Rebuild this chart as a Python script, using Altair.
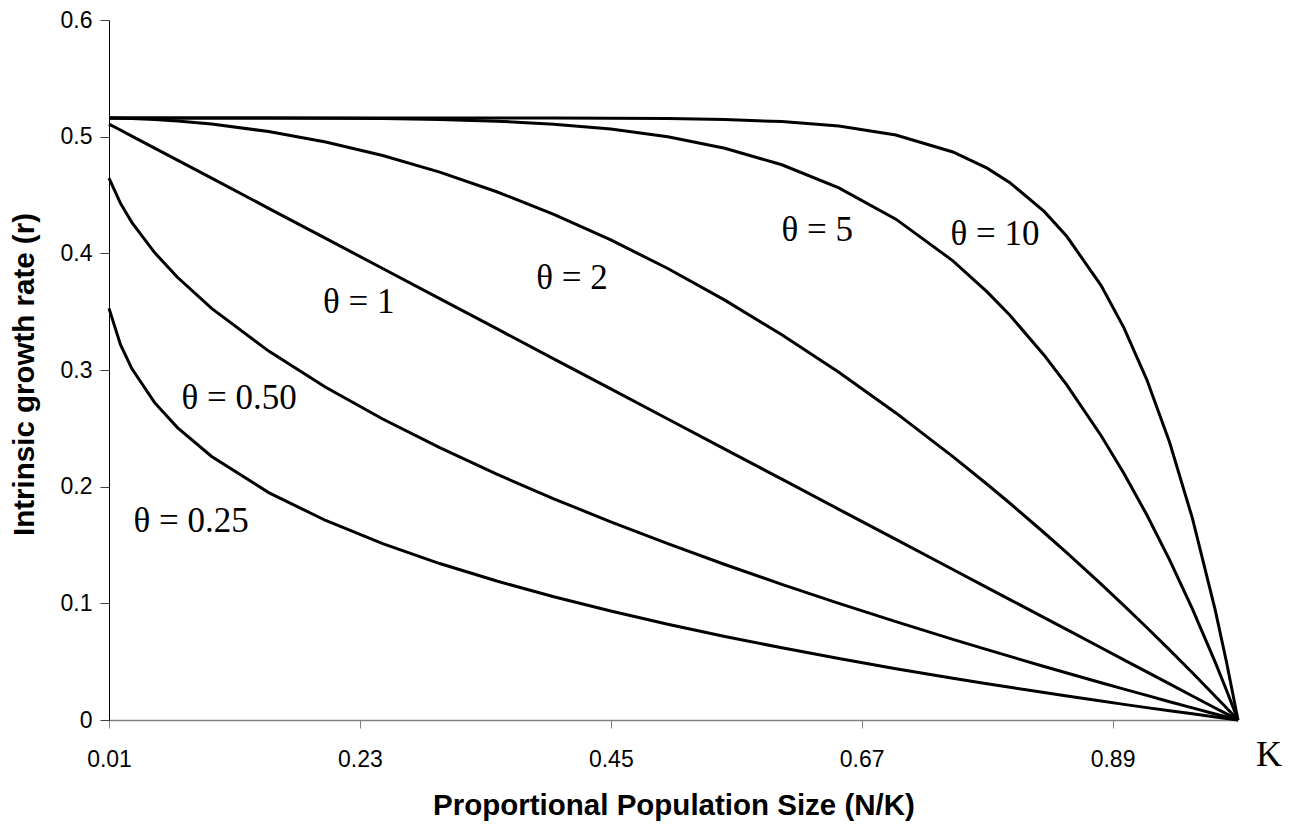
import altair as alt
import pandas as pd

# Proportional population size (N/K)
x_vals = [0.01, 0.02, 0.03, 0.05, 0.07, 0.10, 0.15, 0.20, 0.25, 0.30, 0.35, 0.40,
          0.45, 0.50, 0.55, 0.60, 0.65, 0.70, 0.75, 0.78, 0.80, 0.83, 0.85, 0.88,
          0.90, 0.92, 0.94, 0.96, 0.98, 0.99, 1.00]

r_theta_025 = [0.3528, 0.3219, 0.3012, 0.2720, 0.2506, 0.2259, 0.1949, 0.1710, 0.1511,
               0.1341, 0.1191, 0.1056, 0.0934, 0.0821, 0.0716, 0.0619, 0.0527, 0.0440,
               0.0358, 0.0311, 0.0280, 0.0235, 0.0205, 0.0162, 0.0134, 0.0106, 0.0079,
               0.0053, 0.0026, 0.0013, 0.0]
r_theta_050 = [0.4644, 0.4430, 0.4266, 0.4006, 0.3795, 0.3528, 0.3162, 0.2852, 0.2580,
               0.2334, 0.2107, 0.1896, 0.1699, 0.1511, 0.1333, 0.1163, 0.1000, 0.0843,
               0.0691, 0.0603, 0.0545, 0.0459, 0.0403, 0.0319, 0.0265, 0.0211, 0.0157,
               0.0104, 0.0052, 0.0026, 0.0]
r_theta_1 = [0.5108, 0.5057, 0.5005, 0.4902, 0.4799, 0.4644, 0.4386, 0.4128, 0.3870,
             0.3612, 0.3354, 0.3096, 0.2838, 0.2580, 0.2322, 0.2064, 0.1806, 0.1548,
             0.1290, 0.1135, 0.1032, 0.0877, 0.0774, 0.0619, 0.0516, 0.0413, 0.0310,
             0.0206, 0.0103, 0.0052, 0.0]
r_theta_2 = [0.5159, 0.5158, 0.5155, 0.5147, 0.5135, 0.5108, 0.5044, 0.4954, 0.4838,
             0.4696, 0.4528, 0.4334, 0.4115, 0.3870, 0.3599, 0.3302, 0.2980, 0.2632,
             0.2258, 0.2021, 0.1858, 0.1605, 0.1432, 0.1164, 0.0980, 0.0793, 0.0601,
             0.0405, 0.0204, 0.0103, 0.0]
r_theta_5 = [0.5160, 0.5160, 0.5160, 0.5160, 0.5160, 0.5160, 0.5160, 0.5158, 0.5155,
             0.5147, 0.5133, 0.5107, 0.5065, 0.4999, 0.4900, 0.4759, 0.4561, 0.4293,
             0.3936, 0.3670, 0.3469, 0.3127, 0.2871, 0.2437, 0.2113, 0.1759, 0.1373,
             0.0952, 0.0496, 0.0253, 0.0]
r_theta_10 = [0.5160, 0.5160, 0.5160, 0.5160, 0.5160, 0.5160, 0.5160, 0.5160, 0.5160,
              0.5160, 0.5160, 0.5159, 0.5158, 0.5155, 0.5147, 0.5129, 0.5091, 0.5014,
              0.4869, 0.4730, 0.4606, 0.4359, 0.4144, 0.3723, 0.3361, 0.2918, 0.2381,
              0.1730, 0.0944, 0.0493, 0.0]

series_names = ["0.25", "0.50", "1", "2", "5", "10"]
series_values = [r_theta_025, r_theta_050, r_theta_1, r_theta_2, r_theta_5, r_theta_10]

# curve labels (text and anchor in data coordinates)
label_text = ["θ = 0.25", "θ = 0.50", "θ = 1", "θ = 2", "θ = 5", "θ = 10"]
label_x = [0.082, 0.124, 0.229, 0.416, 0.631, 0.787]
label_y = [0.171, 0.276, 0.358, 0.379, 0.420, 0.417]

x_ticks = [0.01, 0.23, 0.45, 0.67, 0.89]
y_ticks = [0, 0.1, 0.2, 0.3, 0.4, 0.5, 0.6]

rows = []
for name, vals in zip(series_names, series_values):
    for xv, yv in zip(x_vals, vals):
        rows.append({"theta": name, "x": xv, "r": yv})
df = pd.DataFrame(rows)

labels_df = pd.DataFrame({"text": label_text, "x": label_x, "y": label_y})
k_df = pd.DataFrame({"text": ["K"], "x": [1.0], "y": [0.0]})

x_scale = alt.Scale(domain=[0.01, 1.0], nice=False, zero=False)
y_scale = alt.Scale(domain=[0, 0.6], nice=False)

x_axis = alt.Axis(
    values=x_ticks, format=".2f", grid=False, labelFlush=False,
    tickSize=8, tickColor="#808080", domainColor="#808080", domainWidth=1.5,
    labelFont="Liberation Sans", labelFontSize=23, labelColor="black", labelPadding=20,
    title="Proportional Population Size (N/K)", titleFont="Liberation Sans",
    titleFontSize=29.5, titleFontWeight="bold", titleColor="black",
    titleBaseline="alphabetic", titleY=94,
)
y_axis = alt.Axis(
    values=y_ticks, format=".1~f", grid=False,
    tickSize=9, tickColor="#404040", domainColor="black", domainWidth=1,
    labelFont="Liberation Sans", labelFontSize=23, labelColor="black", labelPadding=8,
    title="Intrinsic growth rate (r)", titleFont="Liberation Sans",
    titleFontSize=29.5, titleFontWeight="bold", titleColor="black",
    titleAngle=-90, titleBaseline="alphabetic", titleAlign="center",
    titleX=-76, titleY=354,
)

lines = alt.Chart(df).mark_line(color="black", strokeWidth=3).encode(
    x=alt.X("x:Q", scale=x_scale, axis=x_axis),
    y=alt.Y("r:Q", scale=y_scale, axis=y_axis),
    detail="theta:N",
    order="x:Q",
)

labels = alt.Chart(labels_df).mark_text(
    font="Liberation Serif", fontSize=35, color="black", align="center", baseline="middle"
).encode(
    x=alt.X("x:Q", scale=x_scale),
    y=alt.Y("y:Q", scale=y_scale),
    text="text:N",
)

k_label = alt.Chart(k_df).mark_text(
    font="Liberation Serif", fontSize=36, color="black", align="center",
    baseline="middle", dx=31, dy=35
).encode(
    x=alt.X("x:Q", scale=x_scale),
    y=alt.Y("y:Q", scale=y_scale),
    text="text:N",
)

chart = alt.layer(lines, labels, k_label).properties(
    width=1129, height=700,
    autosize=alt.AutoSizeParams(type="none"),
    padding={"left": 109, "top": 20, "right": 54, "bottom": 105},
    background="white",
).configure_view(stroke=None)

chart.save("out.html", embed_options={"renderer": "svg", "actions": False})
